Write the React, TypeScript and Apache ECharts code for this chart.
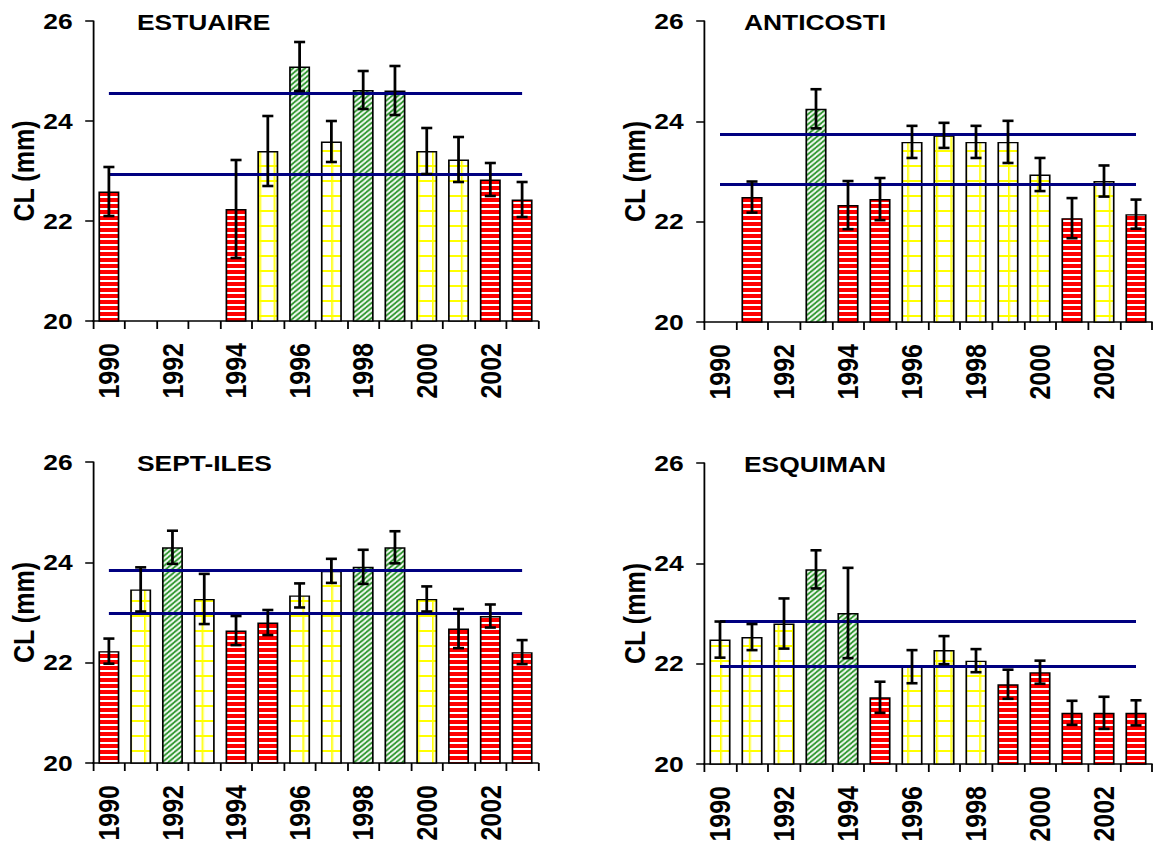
import React, { useEffect, useRef } from 'react';
import * as echarts from 'echarts';

// ---------- DATA ----------
const years = ['1990', '1991', '1992', '1993', '1994', '1995', '1996', '1997', '1998', '1999', '2000', '2001', '2002', '2003'];
const yMin = 20;
const yMax = 26;
const yStep = 2;
const yName = 'CL (mm)';

// R = red horizontal stripes, Y = yellow grid, G = green hatching
const estuaireTitle = 'ESTUAIRE';
const estuaireMean = [22.59, null, null, null, 22.24, 23.4, 25.09, 23.59, 24.62, 24.61, 23.4, 23.23, 22.83, 22.43];
const estuaireErr = [0.49, null, null, null, 0.98, 0.7, 0.49, 0.41, 0.38, 0.49, 0.46, 0.45, 0.33, 0.35];
const estuaireKind = ['R', null, null, null, 'R', 'Y', 'G', 'Y', 'G', 'G', 'Y', 'Y', 'R', 'R'];
const estuaireRef = [24.55, 22.93];

const anticostiTitle = 'ANTICOSTI';
const anticostiMean = [null, 22.49, null, 24.25, 22.33, 22.45, 23.59, 23.72, 23.59, 23.59, 22.94, 22.07, 22.81, 22.15];
const anticostiErr = [null, 0.31, null, 0.39, 0.48, 0.42, 0.32, 0.25, 0.32, 0.42, 0.33, 0.4, 0.31, 0.29];
const anticostiKind = [null, 'R', null, 'G', 'R', 'R', 'Y', 'Y', 'Y', 'Y', 'Y', 'R', 'Y', 'R'];
const anticostiRef = [23.75, 22.74];

const septilesTitle = 'SEPT-ILES';
const septilesMean = [22.23, 23.46, 24.3, 23.27, 22.64, 22.8, 23.34, 23.83, 23.91, 24.3, 23.27, 22.68, 22.93, 22.21];
const septilesErr = [0.25, 0.44, 0.33, 0.5, 0.29, 0.25, 0.24, 0.24, 0.34, 0.32, 0.25, 0.39, 0.23, 0.24];
const septilesKind = ['R', 'Y', 'G', 'Y', 'R', 'R', 'Y', 'Y', 'G', 'G', 'Y', 'R', 'R', 'R'];
const septilesRef = [23.84, 22.99];

const esquimanTitle = 'ESQUIMAN';
const esquimanMean = [22.48, 22.53, 22.8, 23.88, 23.01, 21.33, 21.94, 22.27, 22.06, 21.59, 21.83, 21.02, 21.02, 21.02];
const esquimanErr = [0.36, 0.26, 0.5, 0.38, 0.9, 0.31, 0.33, 0.28, 0.23, 0.29, 0.23, 0.24, 0.32, 0.25];
const esquimanKind = ['Y', 'Y', 'Y', 'G', 'G', 'R', 'Y', 'Y', 'Y', 'R', 'R', 'R', 'R', 'R'];
const esquimanRef = [22.85, 21.94];

const panels = [
  { title: estuaireTitle, mean: estuaireMean, err: estuaireErr, kind: estuaireKind, ref: estuaireRef },
  { title: anticostiTitle, mean: anticostiMean, err: anticostiErr, kind: anticostiKind, ref: anticostiRef },
  { title: septilesTitle, mean: septilesMean, err: septilesErr, kind: septilesKind, ref: septilesRef },
  { title: esquimanTitle, mean: esquimanMean, err: esquimanErr, kind: esquimanKind, ref: esquimanRef },
];

// ---------- LAYOUT ----------
// The original figure is stretched horizontally (~1.2x); the chart is drawn
// in a narrower box and stretched with a CSS transform to reproduce that.
const SX = 1.2;
const W = 1153;
const H = 848;
const px = (v: number) => v / SX;

const grids = [
  { left: px(93), top: 21, width: px(445), height: 300 },
  { left: px(704), top: 21, width: px(448), height: 301 },
  { left: px(93), top: 462, width: px(445), height: 301 },
  { left: px(704), top: 463, width: px(448), height: 301 },
];
const titlePos = [
  { left: px(137), top: 11 },
  { left: px(744), top: 11 },
  { left: px(137), top: 452 },
  { left: px(744), top: 453 },
];

const FONT = 'Liberation Sans, Arial, sans-serif';

function makeTile(w: number, h: number, draw: (ctx: CanvasRenderingContext2D) => void) {
  const c = document.createElement('canvas');
  c.width = w;
  c.height = h;
  const ctx = c.getContext('2d') as CanvasRenderingContext2D;
  draw(ctx);
  return c;
}

function buildPatterns() {
  const red = makeTile(6, 6, (ctx) => {
    ctx.fillStyle = '#ff0000';
    ctx.fillRect(0, 0, 6, 6);
    ctx.fillStyle = '#ffffff';
    ctx.fillRect(0, 4, 6, 2);
  });
  const yellow = makeTile(12, 15, (ctx) => {
    ctx.fillStyle = '#ffffff';
    ctx.fillRect(0, 0, 12, 15);
    ctx.fillStyle = '#ffff00';
    ctx.fillRect(0, 0, 12, 2);
    ctx.fillRect(0, 0, 1.5, 15);
  });
  const green = makeTile(5, 5, (ctx) => {
    ctx.fillStyle = '#339933';
    ctx.fillRect(0, 0, 5, 5);
    ctx.strokeStyle = '#ffffff';
    ctx.lineWidth = 1.6;
    ctx.beginPath();
    ctx.moveTo(-1, 6);
    ctx.lineTo(6, -1);
    ctx.moveTo(-3.5, 3.5);
    ctx.lineTo(3.5, -3.5);
    ctx.moveTo(1.5, 8.5);
    ctx.lineTo(8.5, 1.5);
    ctx.stroke();
  });
  return {
    R: { image: red, repeat: 'repeat' },
    Y: { image: yellow, repeat: 'repeat' },
    G: { image: green, repeat: 'repeat' },
  } as Record<string, any>;
}

export default function App() {
  const ref = useRef<HTMLDivElement>(null);

  useEffect(() => {
    if (!ref.current) return;
    const chart = echarts.init(ref.current, undefined, { renderer: 'svg' });
    const pat = buildPatterns();

    const option: any = {
      animation: false,
      backgroundColor: '#ffffff',
      title: panels.map((p, i) => ({
        text: p.title,
        left: titlePos[i].left,
        top: titlePos[i].top,
        padding: 0,
        textStyle: { fontFamily: FONT, fontWeight: 'bold', fontSize: 22, color: '#000' },
      })),
      grid: grids.map((g) => ({ ...g, containLabel: false })),
      xAxis: panels.map((_, i) => ({
        type: 'category',
        gridIndex: i,
        data: years,
        boundaryGap: true,
        axisLine: { show: true, onZero: false, lineStyle: { color: '#000', width: 1.5 } },
        axisTick: { show: true, interval: 0, alignWithLabel: false, length: 8, lineStyle: { color: '#000', width: 1.5 } },
        axisLabel: {
          interval: 1,
          rotate: 90,
          margin: 22,
          fontFamily: FONT,
          fontWeight: 'bold',
          fontSize: 25,
          color: '#000',
        },
        splitLine: { show: false },
      })),
      yAxis: panels.map((_, i) => ({
        type: 'value',
        gridIndex: i,
        min: yMin,
        max: yMax,
        interval: yStep,
        name: yName,
        nameLocation: 'middle',
        nameGap: 44,
        nameTextStyle: { fontFamily: FONT, fontWeight: 'bold', fontSize: 25, color: '#000' },
        axisLine: { show: true, lineStyle: { color: '#000', width: 1.5 } },
        axisTick: { show: true, length: 6.5, lineStyle: { color: '#000', width: 1.5 } },
        axisLabel: { margin: 17, fontFamily: FONT, fontWeight: 'bold', fontSize: 22, color: '#000' },
        splitLine: { show: false },
      })),
      series: panels.flatMap((p, i) => [
        {
          type: 'bar',
          xAxisIndex: i,
          yAxisIndex: i,
          barWidth: '66%',
          z: 2,
          data: p.mean.map((m, k) =>
            m == null
              ? '-'
              : {
                  value: m,
                  itemStyle: { color: pat[p.kind[k] as string], borderColor: '#000', borderWidth: 1.4 },
                }
          ),
          markLine: {
            silent: true,
            symbol: 'none',
            z: 5,
            label: { show: false },
            lineStyle: { color: '#000080', width: 3, type: 'solid' },
            data: p.ref.map((v) => [
              { coord: [years[0], v] },
              { coord: [years[years.length - 1], v] },
            ]),
          },
        },
        {
          type: 'custom',
          xAxisIndex: i,
          yAxisIndex: i,
          z: 6,
          data: p.mean
            .map((m, k) => (m == null ? null : [k, m, p.err[k]]))
            .filter((d) => d != null),
          renderItem: (params: any, api: any) => {
            const x = api.value(0);
            const m = api.value(1);
            const e = api.value(2);
            const top = api.coord([x, m + e]);
            const bot = api.coord([x, m - e]);
            const hw = 4.6;
            const st = { stroke: '#000', lineWidth: 2.6 };
            return {
              type: 'group',
              children: [
                { type: 'line', shape: { x1: top[0], y1: top[1], x2: bot[0], y2: bot[1] }, style: { stroke: '#000', lineWidth: 2.3 } },
                { type: 'line', shape: { x1: top[0] - hw, y1: top[1], x2: top[0] + hw, y2: top[1] }, style: st },
                { type: 'line', shape: { x1: bot[0] - hw, y1: bot[1], x2: bot[0] + hw, y2: bot[1] }, style: st },
              ],
            };
          },
        },
      ]),
    };

    chart.setOption(option);
    return () => chart.dispose();
  }, []);

  return (
    <div style={{ position: 'fixed', left: 0, top: 0, width: W, height: H, background: '#fff', overflow: 'hidden' }}>
      <div
        ref={ref}
        style={{
          width: Math.round(W / SX),
          height: H,
          transform: `scaleX(${SX})`,
          transformOrigin: '0 0',
        }}
      />
    </div>
  );
}
